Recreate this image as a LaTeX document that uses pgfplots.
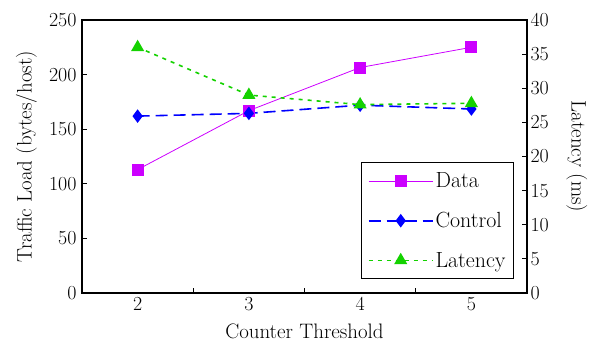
\documentclass[border=0pt]{standalone}
\usepackage{pgfplots}
\pgfplotsset{compat=1.18}
\definecolor{cdata}{RGB}{204,0,255}
\definecolor{cctrl}{RGB}{0,0,255}
\definecolor{clat}{RGB}{20,210,0}
\begin{document}
\begin{tikzpicture}
\pgfplotsset{
 common/.style={
  scale only axis, width=445bp, height=273bp,
  xmin=1.5, xmax=5.5,
  tick align=inside,
  major tick length=5bp,
  /pgf/number format/assume math mode=true,
  tick label style={font=\rmfamily\fontsize{20}{20}\selectfont},
  label style={font=\rmfamily\fontsize{21}{21}\selectfont},
  axis line style={line width=1.4bp},
  tick style={line width=1bp, black},
 },
 pdata/.style={cdata, line width=0.8bp, mark=square*, mark size=5.5bp},
 pctrl/.style={cctrl, line width=1.6bp, dash pattern=on 12bp off 6bp, mark=diamond*, mark size=5.5bp, mark options={solid}},
 plat/.style={clat, line width=1.6bp, dash pattern=on 4bp off 5bp, mark=triangle*, mark size=6bp, mark options={solid}},
}
\begin{axis}[common, name=a,
  ymin=0, ymax=250, ytick={0,50,...,250}, ytick pos=left,
  xtick={2.5,3.5,4.5}, xticklabels={}, xtick pos=bottom,
  extra x ticks={2,3,4,5}, extra x tick labels={2,3,4,5},
  extra x tick style={major tick length=0pt},
  yticklabel style={xshift=-2bp},
  xticklabel style={yshift=-1bp},
  xlabel={Counter Threshold}, ylabel={Traffic Load (bytes/host)},
  xlabel style={at={(axis description cs:0.5,-0.139)}, anchor=center},
  ylabel style={at={(axis description cs:-0.125,0.5)}, anchor=center},
]
\addplot[pdata] coordinates {(2,113) (3,167) (4,206.5) (5,225)};
\addplot[pctrl] coordinates {(2,162) (3,164.5) (4,172) (5,168.5)};
\end{axis}
\begin{axis}[common,
  ymin=0, ymax=40, ytick={0,5,...,40},
  axis x line=none, axis y line*=right, ytick pos=right,
  ylabel={Latency (ms)},
  ylabel style={at={(axis description cs:1.112,0.5)}, anchor=center, rotate=180},
  legend style={at={(0.971,0.051)}, anchor=south east, draw=black, line width=1bp,
    font=\rmfamily\fontsize{22}{22}\selectfont, row sep=19bp, inner xsep=6bp, inner ysep=8bp, cells={anchor=west}},
  legend image code/.code={
   \draw[#1, mark=none] plot coordinates {(0bp,0bp) (32bp,0bp) (64bp,0bp)};
   \draw[#1, solid, draw=none] plot coordinates {(32bp,0bp)};
  },
]
\addlegendimage{pdata}
\addlegendentry{Data}
\addlegendimage{pctrl}
\addlegendentry{Control}
\addlegendimage{plat}
\addlegendentry{Latency}
\addplot[plat, forget plot] coordinates {(2,36) (3,29) (4,27.6) (5,27.8)};
\end{axis}
\path ([shift={(-82bp,-52bp)}]a.south west) rectangle ([shift={(72bp,20bp)}]a.north east);
\end{tikzpicture}
\end{document}
